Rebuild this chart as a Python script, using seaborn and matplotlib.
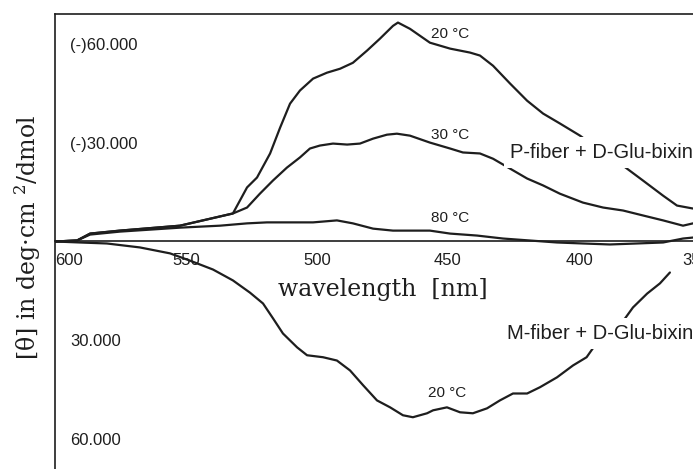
import numpy as np
import pandas as pd
import matplotlib
matplotlib.use("Agg")
import matplotlib.pyplot as plt
from matplotlib.ticker import FixedLocator, MultipleLocator
import seaborn as sns

# P-fiber + D-Glu-bixin, 20 C  (wavelength nm, [theta] in deg cm2/dmol)
p20_wl = [600, 591.6, 586.6, 575.2, 552.3, 532.1, 526.7, 522.9, 517.9, 514.1, 510.3,
          506.5, 501.5, 496.2, 491.2, 486.3, 480.9, 476.0, 471.0, 469.1, 464.5,
          460.7, 456.9, 449.2, 441.6, 437.8, 432.8, 426.3, 419.8, 413.7, 407.3,
          399.6, 392.0, 383.2, 375.6, 367.9, 362.6, 356.5]
p20_th = [0, -300, -2400, -3300, -4800, -8500, -16400, -19400, -26700, -34500, -41800,
          -45800, -49400, -51200, -52400, -54200, -57900, -61500, -65400, -66400, -64500,
          -62400, -60300, -58500, -57300, -56400, -53300, -47900, -42700, -38800, -35800,
          -32100, -27600, -23000, -18500, -13900, -10900, -10000]

# P-fiber + D-Glu-bixin, 30 C
p30_wl = [600, 591.6, 586.6, 575.2, 552.3, 532.1, 526.7, 521.8, 516.8, 511.5, 506.5,
          502.7, 498.9, 493.9, 488.5, 483.6, 478.6, 473.3, 469.5, 464.5, 456.9,
          449.2, 444.3, 437.8, 432.8, 426.3, 419.8, 413.7, 407.3, 398.5, 390.8,
          383.2, 375.6, 367.9, 360.3, 356.5]
p30_th = [0, -300, -2400, -3300, -4800, -8500, -10300, -14500, -18500, -22400, -25500,
          -28200, -29100, -29700, -29400, -29700, -31200, -32400, -32700, -32100, -30000,
          -28200, -27000, -26700, -25100, -22100, -19100, -17000, -14500, -11800, -10300,
          -9400, -7900, -6400, -4800, -5500]

# P-fiber + D-Glu-bixin, 80 C
p80_wl = [600, 591.6, 586.6, 575.2, 563.7, 552.3, 544.7, 537.0, 526.7, 519.1, 501.5,
          492.4, 486.3, 478.6, 471.0, 456.9, 449.2, 438.9, 429.0, 418.7, 408.4,
          398.5, 388.2, 377.9, 367.9, 360.3, 356.5]
p80_th = [0, -300, -2100, -3000, -3600, -4200, -4500, -4800, -5500, -5800, -5800,
          -6400, -5500, -3900, -3300, -3300, -2400, -1800, -900, -300, 300,
          600, 900, 600, 300, -900, -1200]

# M-fiber + D-Glu-bixin, 20 C
m20_wl = [600, 590.5, 580.2, 567.6, 556.1, 548.5, 539.7, 532.1, 525.6, 520.6, 516.8,
          513.0, 507.6, 503.8, 497.7, 492.4, 487.4, 482.4, 477.1, 472.1, 467.2,
          463.4, 458.0, 455.7, 450.4, 445.4, 440.5, 435.1, 430.2, 425.2, 419.8,
          414.9, 408.4, 402.3, 397.1, 394.7, 388.2, 382.4, 379.4, 374.0, 369.1, 365.3]
m20_th = [0, 300, 600, 1800, 3600, 5800, 8500, 11800, 15500, 18800, 23300,
          27900, 32100, 34500, 35100, 36100, 39100, 43600, 48200, 50300, 52700,
          53300, 52100, 51200, 50300, 51800, 52100, 50600, 48200, 46100, 46100,
          44200, 41200, 37600, 35100, 32400, 27600, 23300, 20000, 15800, 12700, 9400]

xticks = [600, 550, 500, 450, 400, 350]
yticks = [-60000, -30000, 30000, 60000]
ytick_labels = ["(-)60.000", "(-)30.000", "30.000", "60.000"]

curves = pd.concat([
    pd.DataFrame({"wl": p20_wl, "theta": p20_th, "curve": "P20"}),
    pd.DataFrame({"wl": p30_wl, "theta": p30_th, "curve": "P30"}),
    pd.DataFrame({"wl": p80_wl, "theta": p80_th, "curve": "P80"}),
    pd.DataFrame({"wl": m20_wl, "theta": m20_th, "curve": "M20"}),
])

sns.set_style("white")
plt.rcParams["mathtext.fontset"] = "dejavuserif"
serif = ["DejaVu Serif"]
sans = ["Liberation Sans", "DejaVu Sans"]
ink = "#1e1e1e"

fig = plt.figure(figsize=(6.93, 4.69), dpi=100)
ax = fig.add_axes([55 / 693, 0.0, 655 / 693, 455 / 469])

for name, grp in curves.groupby("curve", sort=False):
    sns.lineplot(data=grp, x="wl", y="theta", ax=ax, color=ink, lw=1.6,
                 sort=False, estimator=None, legend=False)

ax.set_xlim(600, 350)
ax.set_ylim(69000, -69000)

# frame: left + top, x axis through zero
ax.spines["right"].set_visible(False)
ax.spines["bottom"].set_position(("data", 0))
for s in ["left", "top", "bottom"]:
    ax.spines[s].set_color(ink)
    ax.spines[s].set_linewidth(1.2)

ax.xaxis.set_major_locator(FixedLocator(xticks))
ax.set_xticklabels([str(t) for t in xticks], family=sans, fontsize=12)
ax.tick_params(axis="x", direction="inout", length=6, width=1, pad=5, colors=ink)
xl = ax.get_xticklabels()
xl[0].set_ha("left")
xl[-1].set_ha("right")
for t in xl:
    t.set_bbox(dict(fc="white", ec="none", pad=1.5))

ax.yaxis.set_major_locator(FixedLocator(yticks))
ax.yaxis.set_minor_locator(MultipleLocator(10000))
ax.set_yticklabels(ytick_labels, family=sans, fontsize=12)
ax.tick_params(axis="y", which="both", direction="in", length=5, width=1,
               colors=ink, pad=-11)
for t in ax.get_yticklabels():
    t.set_ha("left")

ax.set_xlabel("wavelength  [nm]", family=serif, fontsize=17, color=ink)
ax.xaxis.set_label_coords(0.50, 0.42)
ax.set_ylabel("[θ] in deg·cm $^2$/dmol", family=serif, fontsize=17, color=ink)
ax.yaxis.set_label_coords(-0.018, 0.51)

lab = dict(family=sans, fontsize=11, color=ink, ha="center", va="center")
ax.text(449.2, -63000, "20 °C", **lab)
ax.text(449.2, -32400, "30 °C", **lab)
ax.text(449.2, -7000, "80 °C", **lab)
ax.text(450.4, 45800, "20 °C", **lab)

box = dict(fc="white", ec="none", pad=4)
ax.text(426.3, -27000, "P-fiber + D-Glu-bixin", family=sans, fontsize=14.5,
        color=ink, ha="left", va="center", bbox=box, zorder=5)
ax.text(427.5, 27900, "M-fiber + D-Glu-bixin", family=sans, fontsize=14.5,
        color=ink, ha="left", va="center", bbox=box, zorder=5)

fig.savefig("out.png", dpi=100)
